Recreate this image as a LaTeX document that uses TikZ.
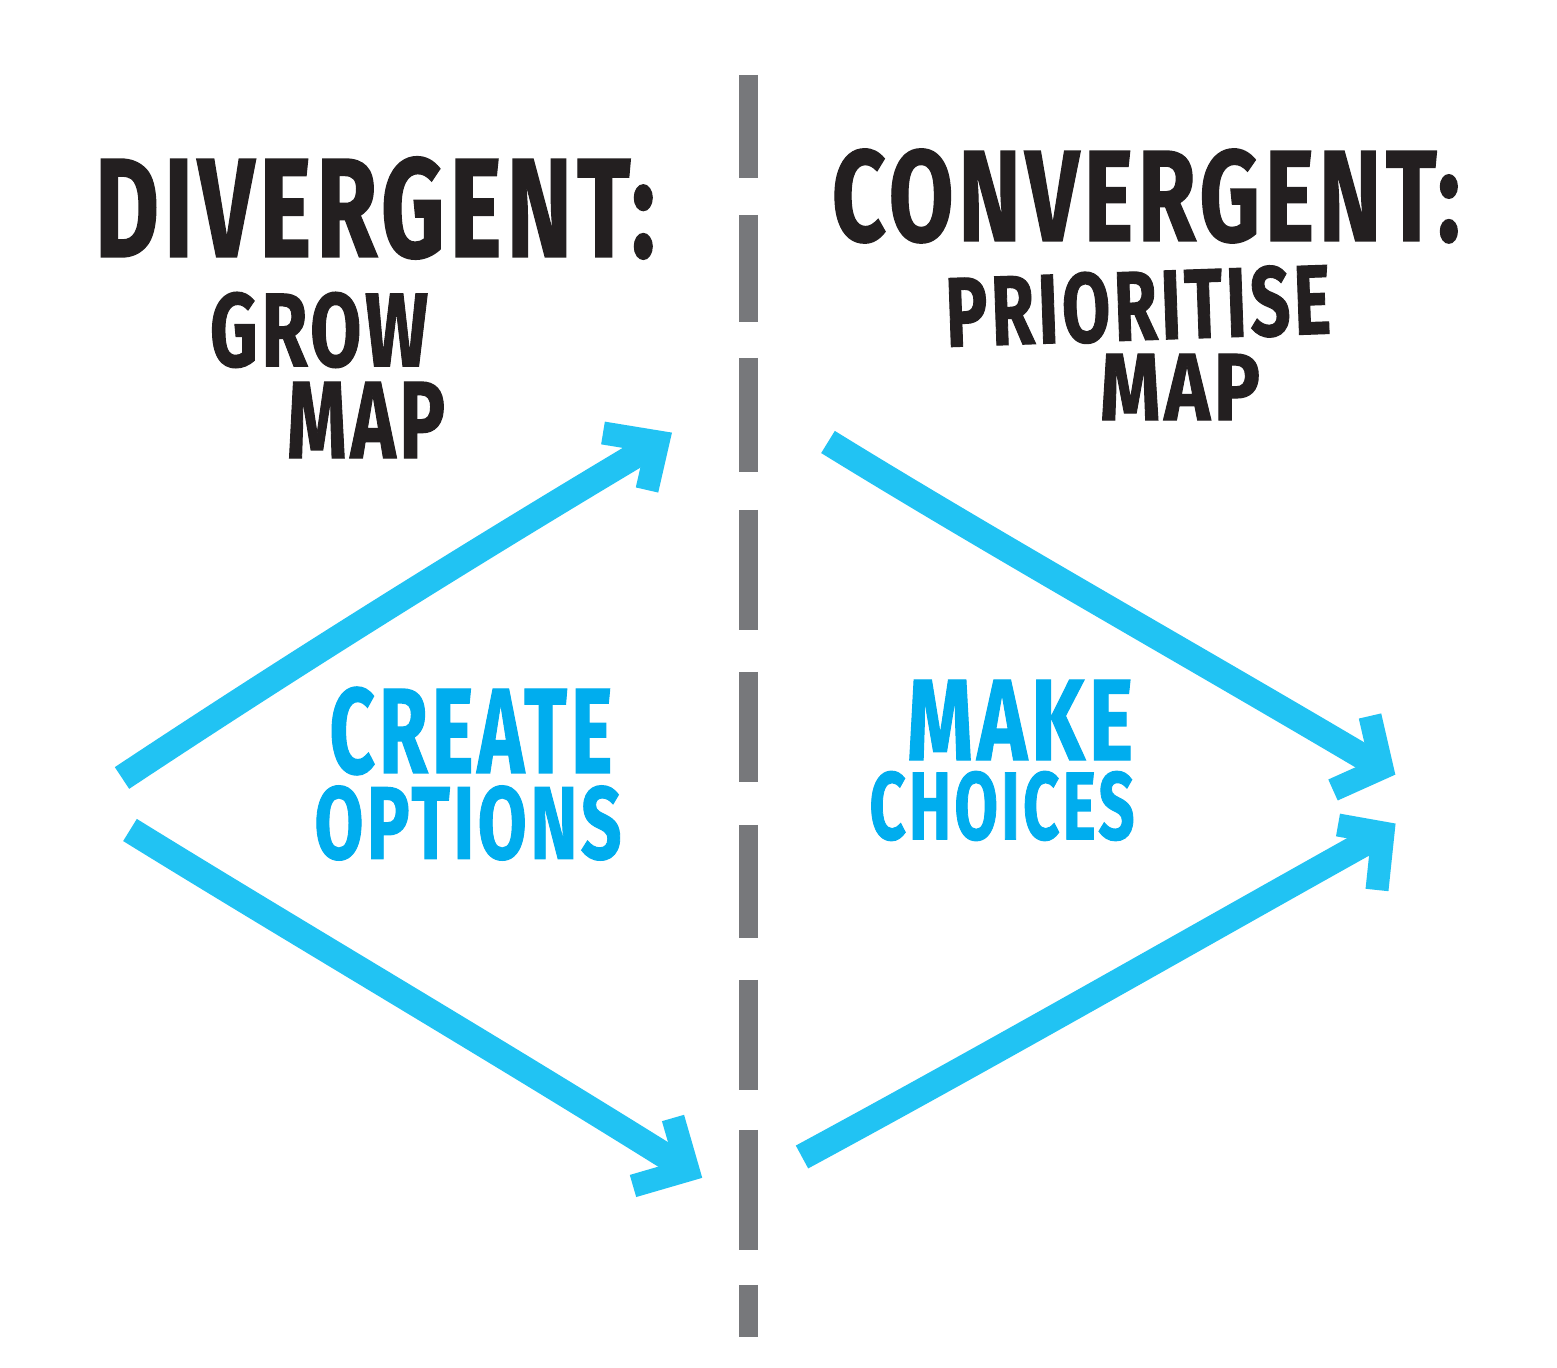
\documentclass[tikz,border=0pt]{standalone}
\usepackage{graphicx}
\usepackage{fontspec}
\setmainfont{Fira Sans}[BoldFeatures={FakeBold=1.2, LetterSpace=5}]

\definecolor{ink}{HTML}{231F20}
\definecolor{slate}{HTML}{77787B}
\definecolor{sky}{HTML}{21C3F3}
\definecolor{skytext}{HTML}{00ADEE}

\tikzset{
  word/.style={inner sep=0pt, outer sep=0pt, font=\bfseries},
  heading/.style={word, text=ink},
  action/.style={word, text=skytext},
  flow/.style={draw=sky, line width=0.26cm, line cap=butt, line join=round},
  barb/.style={draw=sky, line width=0.23cm, line cap=butt, line join=miter},
  divider/.style={draw=slate, line width=0.19cm, line cap=butt}
}

\begin{document}
\begin{tikzpicture}[x=0.01cm, y=-0.01cm]
  \useasboundingbox (0,0) rectangle (1557,1368);
  \fill[white] (0,0) rectangle (1557,1368);

  % centre divider, drawn as separate hand-cut dashes
  \foreach \a/\b in {75/178, 215/322, 358/472, 510/630, 672/782,
                     825/938, 980/1090, 1130/1250, 1285/1337}
    \draw[divider] (748,\a) -- (748,\b);

  % headings
  \node[heading] (divergent) at (375,208)
    {\resizebox{5.60cm}{1.00cm}{DIVERGENT:}};
  \node[heading] (grow) at (319,330)
    {\resizebox{2.18cm}{0.74cm}{GROW}};
  \node[heading] (growmap) at (366,420)
    {\resizebox{1.58cm}{0.76cm}{MAP}};
  \node[heading] (convergent) at (1146,196)
    {\resizebox{6.28cm}{0.92cm}{CONVERGENT:}};
  \node[heading, rotate=2] (prioritise) at (1138,306)
    {\resizebox{3.85cm}{0.70cm}{PRIORITISE}};
  \node[heading] (primap) at (1180,387)
    {\resizebox{1.60cm}{0.66cm}{MAP}};

  % phase labels
  \node[action] (create) at (471,731)
    {\resizebox{2.83cm}{0.86cm}{CREATE}};
  \node[action] (options) at (468,823)
    {\resizebox{3.07cm}{0.73cm}{OPTIONS}};
  \node[action] (make) at (1020,720)
    {\resizebox{2.26cm}{0.80cm}{MAKE}};
  \node[action] (choices) at (1002,806)
    {\resizebox{2.65cm}{0.68cm}{CHOICES}};

  % arrow end points
  \coordinate (startA) at (122,778);
  \coordinate (tipA)   at (658,442);
  \coordinate (startB) at (130,830);
  \coordinate (tipB)   at (688,1170);
  \coordinate (startC) at (828,442);
  \coordinate (tipC)   at (1382,768);
  \coordinate (startD) at (802,1157);
  \coordinate (tipD)   at (1383,833);

  % arrow shafts
  \draw[flow] (startA) .. controls (300,660) and (480,548) .. (tipA);
  \draw[flow] (startB) .. controls (300,935) and (500,1052) .. (tipB);
  \draw[flow] (startC) .. controls (1000,548) and (1200,660) .. (tipC);
  \draw[flow] (startD) .. controls (1000,1050) and (1200,935) .. (tipD);

  % arrow heads
  \draw[barb] (603,433) -- (tipA) -- (647,490);
  \draw[barb] (673,1118) -- (tipB) -- (633,1186);
  \draw[barb] (1370,716) -- (tipC) -- (1333,790);
  \draw[barb] (1338,825) -- (tipD) -- (1377,890);
\end{tikzpicture}
\end{document}
